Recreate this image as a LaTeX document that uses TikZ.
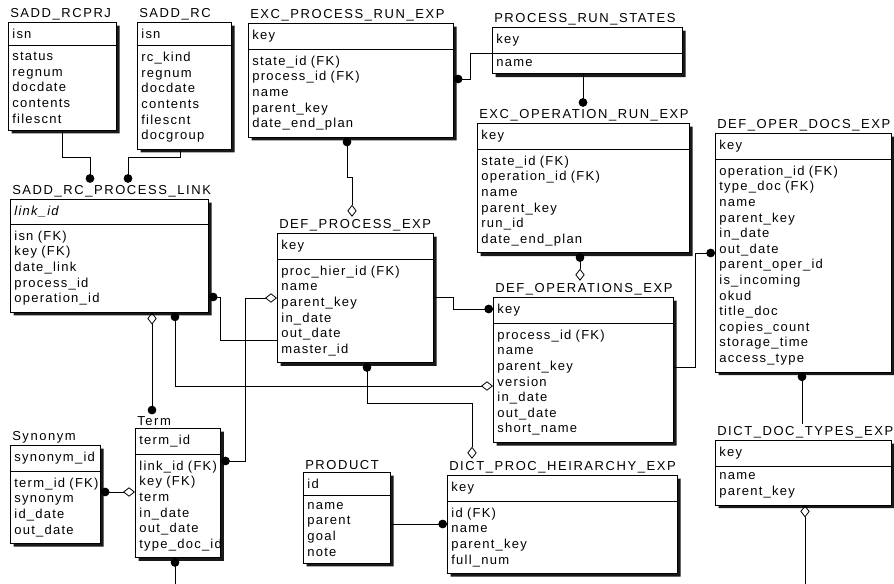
\documentclass[tikz,border=0pt]{standalone}
\usepackage{fontspec}
\newfontfamily\rowfont{Liberation Sans}[LetterSpace=9.5]
\newfontfamily\titlefont{Liberation Sans}[LetterSpace=12]
\usetikzlibrary{positioning,shapes.multipart,shadows,arrows.meta}

\begin{document}
\begin{tikzpicture}[x=0.75pt,y=-0.75pt,
		entity/.style={rectangle split,rectangle split parts=2,draw,fill=white,line width=0.6pt,
			anchor=north west,inner xsep=3pt,inner ysep=4.8pt,align=left,text width=#1,
			font=\rowfont\fontsize{9.75}{11.7}\selectfont,
			drop shadow={shadow xshift=2.4pt,shadow yshift=-2.4pt,fill=black,opacity=0.9}},
		tname/.style={font=\titlefont\fontsize{9.75}{11.7}\selectfont,inner sep=1.5pt},
		rel/.style={line width=0.6pt},
		mny/.tip={Circle[length=6.5pt]},
		opt/.tip={Diamond[open,length=9pt,width=7pt]}]
		\path[use as bounding box,fill=white] (0,0) rectangle (894,584);

		% tables, placed by their top left corner
		\node [entity=75pt] (rcprj) at (8,22) {isn\nodepart{two}status\\regnum\\docdate\\contents\\filescnt};
		\node [tname,above right=0pt of rcprj.north west] (rcprjT) {SADD\_RCPRJ};

		\node [entity=64.5pt] (rc) at (137,22) {isn\nodepart{two}rc\_kind\\regnum\\docdate\\contents\\filescnt\\docgroup};
		\node [tname,above right=0pt of rc.north west] (rcT) {SADD\_RC};

		\node [entity=147.75pt] (procrun) at (248,23) {key\nodepart{two}state\_id (FK)\\process\_id (FK)\\name\\parent\_key\\date\_end\_plan};
		\node [tname,above right=0pt of procrun.north west] (procrunT) {EXC\_PROCESS\_RUN\_EXP};

		\node [entity=136.5pt] (runstates) at (492,27) {key\nodepart{two}name};
		\node [tname,above right=0pt of runstates.north west] (runstatesT) {PROCESS\_RUN\_STATES};

		\node [entity=153pt] (oprun) at (477,123) {key\nodepart{two}state\_id (FK)\\operation\_id (FK)\\name\\parent\_key\\run\_id\\date\_end\_plan};
		\node [tname,above right=0pt of oprun.north west] (oprunT) {EXC\_OPERATION\_RUN\_EXP};

		\node [entity=126pt] (operdocs) at (715,133) {key\nodepart{two}operation\_id (FK)\\type\_doc (FK)\\name\\parent\_key\\in\_date\\out\_date\\parent\_oper\_id\\is\_incoming\\okud\\title\_doc\\copies\_count\\storage\_time\\access\_type};
		\node [tname,above right=0pt of operdocs.north west] (operdocsT) {DEF\_OPER\_DOCS\_EXP};

		\node [entity=142.5pt] (link) at (10,199) {\itshape link\_id\nodepart{two}isn (FK)\\key (FK)\\date\_link\\process\_id\\operation\_id};
		\node [tname,above right=0pt of link.north west] (linkT) {SADD\_RC\_PROCESS\_LINK};

		\node [entity=111pt] (procexp) at (277,233) {key\nodepart{two}proc\_hier\_id (FK)\\name\\parent\_key\\in\_date\\out\_date\\master\_id};
		\node [tname,above right=0pt of procexp.north west] (procexpT) {DEF\_PROCESS\_EXP};

		\node [entity=129pt] (opexp) at (493,297) {key\nodepart{two}process\_id (FK)\\name\\parent\_key\\version\\in\_date\\out\_date\\short\_name};
		\node [tname,above right=0pt of opexp.north west] (opexpT) {DEF\_OPERATIONS\_EXP};

		\node [entity=126pt] (doctypes) at (715,440) {key\nodepart{two}name\\parent\_key};
		\node [tname,above right=0pt of doctypes.north west] (doctypesT) {DICT\_DOC\_TYPES\_EXP};

		% long rows run over the right edge, as in the drawing
		\node [entity=58pt] (term) at (135,428) {term\_id\nodepart{two}\mbox{link\_id (FK)}\\key (FK)\\term\\in\_date\\out\_date\\\mbox{type\_doc\_id}};
		\node [tname,above right=0pt of term.north west] (termT) {Term};

		\node [entity=61.5pt] (syn) at (10,445) {synonym\_id\nodepart{two}term\_id (FK)\\synonym\\id\_date\\out\_date};
		\node [tname,above right=0pt of syn.north west] (synT) {Synonym};

		\node [entity=59.25pt] (product) at (303,472) {id\nodepart{two}name\\parent\\goal\\note};
		\node [tname,above right=0pt of product.north west] (productT) {PRODUCT};

		\node [entity=166.5pt] (hier) at (447,475) {key\nodepart{two}id (FK)\\name\\parent\_key\\full\_num};
		\node [tname,above right=0pt of hier.north west] (hierT) {DICT\_PROC\_HEIRARCHY\_EXP};

		\coordinate (termout) at (175,584);
		\coordinate (docsout) at (805,584);

		% relations in the upper row
		\draw [rel,-mny] (rcprj.south -| 62,0) -- (62,157) -- (90,157) -- (linkT.north -| 90,0);
		\draw [rel,-mny] (rc.south -| 180,0) -- (180,157) -- (128,157) -- (linkT.north -| 128,0);
		\draw [rel,-mny] (runstates.west |- 0,53) -| (470,79) -- (procrun.east |- 0,79);
		\draw [rel,-mny] (runstates.south -| 583,0) -- (oprunT.north -| 583,0);
		\draw [rel,mny-opt] (procrun.south -| 347,0) -- (347,177) -- (352,177) -- (procexpT.north -| 352,0);
		\draw [rel,mny-opt] (oprun.south -| 580,0) -- (opexpT.north -| 580,0);

		% relations in the middle
		\draw [rel,-mny] (procexp.east |- 0,297) -- (453,297) -- (453,309) -- (opexp.west |- 0,309);
		\draw [rel,-mny] (opexp.east |- 0,367) -- (695,367) -- (695,253) -- (operdocs.west |- 0,253);
		\draw [rel,mny-] (operdocs.south -| 802,0) -- (doctypesT.north -| 802,0);
		\draw [rel,-mny] (procexp.west |- 0,340) -- (220,340) -- (220,297) -- (link.east |- 0,297);
		\draw [rel,mny-opt] (term.east |- 0,461) -- (245,461) -- (245,298) -- (procexp.west |- 0,298);
		\draw [rel,opt-mny] (link.south -| 152,0) -- (termT.north -| 152,0);
		\draw [rel,mny-opt] (link.south -| 175,0) -- (175,386) -- (opexp.west |- 0,386);
		\draw [rel,mny-opt] (procexp.south -| 367,0) -- (367,403) -- (472,403) -- (hierT.north -| 472,0);

		% relations in the lower row
		\draw [rel,mny-opt] (syn.east |- 0,492) -- (term.west |- 0,492);
		\draw [rel,-mny] (product.east |- 0,524) -- (hier.west |- 0,524);
		\draw [rel,mny-] (term.south -| 175,0) -- (termout);
		\draw [rel,opt-] (doctypes.south -| 805,0) -- (docsout);
	\end{tikzpicture}
\end{document}
